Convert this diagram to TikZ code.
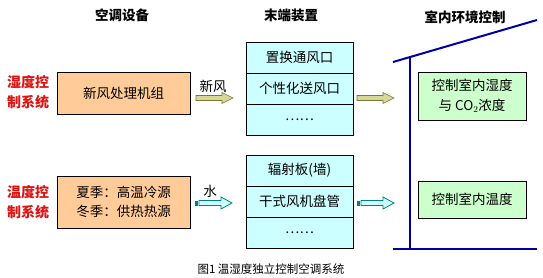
\documentclass[tikz,border=0pt]{standalone}
\usepackage{fontspec}
\setmainfont{Noto Sans CJK SC}
\usetikzlibrary{positioning}

\definecolor{peach}{RGB}{255,204,153}
\definecolor{lightcyan}{RGB}{204,255,255}
\definecolor{lightgreen}{RGB}{204,255,204}
\definecolor{redlabel}{RGB}{220,20,20}
\definecolor{wallblue}{RGB}{0,0,160}
\definecolor{airfill}{RGB}{214,216,150}
\definecolor{airdark}{RGB}{120,120,60}
\definecolor{waterdark}{RGB}{0,128,128}

\begin{document}
\begin{tikzpicture}[x=1pt, y=-1pt, font=\fontsize{13.5}{19.5}\selectfont,
  judul/.style={font=\bfseries\fontsize{13.5}{16}\selectfont},
  labelmerah/.style={text=redlabel, align=center, font=\bfseries\fontsize{14}{19.5}\selectfont},
  kotaksumber/.style={draw, fill=peach, minimum width=133pt, align=center, inner sep=0pt, outer sep=0pt},
  kotakujung/.style={draw, fill=lightcyan, minimum width=107pt, minimum height=31pt, inner sep=0pt, outer sep=0pt},
  kotakruang/.style={draw, fill=lightgreen, minimum width=108pt, align=center, inner sep=0pt, outer sep=0pt},
  panahudara/.style={draw=airdark, fill=airfill, line width=0.6pt},
  panahair/.style={draw=waterdark, fill=lightcyan, line width=0.8pt},
  dinding/.style={draw=wallblue, line width=2pt}]

\useasboundingbox (0,0) rectangle (543,278);

% judul kolom
\node[judul] (jperalatan) at (122,15) {空调设备};
\node[judul] (jujung) at (291,15) {末端装置};
\node[judul] (jruang) at (465,17) {室内环境控制};

% label sistem (merah)
\node[labelmerah] (sislembab) at (28,92) {湿度控\\制系统};
\node[labelmerah] (sissuhu) at (28,202) {温度控\\制系统};

% kotak sumber
\node[kotaksumber, minimum height=42pt] (udarasegar) at (123.5,93) {新风处理机组};
\node[kotaksumber, minimum height=52pt] (sumberpanas) at (123.5,202) {夏季：高温冷源\\冬季：供热热源};

% kolom perangkat ujung atas
\node[kotakujung] (ujung1) at (299.5,57.5) {置换通风口};
\node[kotakujung, below=0pt of ujung1] (ujung2) {个性化送风口};
\node[kotakujung, below=0pt of ujung2] (ujung3) {……};

% kolom perangkat ujung bawah
\node[kotakujung] (ujung4) at (299.5,170.5) {辐射板(墙)};
\node[kotakujung, below=0pt of ujung4] (ujung5) {干式风机盘管};
\node[kotakujung, below=0pt of ujung5] (ujung6) {……};

% label panah
\node (lbudara) at (213,86) {新风};
\node (lbair) at (210,191) {水};

% panah udara segar
\foreach \x in {196,357} {
  \draw[panahudara] (\x,95.5) -- ++(26,0) -- ++(0,-3) -- ++(11,5.5) -- ++(-11,5.5) -- ++(0,-3) -- ++(-26,0) -- cycle;
}

% panah air
\foreach \x in {195,357} {
  \fill[waterdark] (\x,200.5) rectangle ++(3,5);
  \draw[panahair] (\x+4,200.5) -- ++(22,0) -- ++(0,-3.5) -- ++(11,6) -- ++(-11,6) -- ++(0,-3.5) -- ++(-22,0) -- cycle;
}

% ruangan
\coordinate (atapkiri) at (393,62);
\coordinate (atapkanan) at (537,20);
\coordinate (dindingatas) at (410,57);
\coordinate (lantaikiri) at (393,249);
\coordinate (lantaikanan) at (537,249);
\draw[dinding] (atapkiri) -- (atapkanan);
\draw[dinding] (dindingatas) -- (dindingatas |- lantaikiri);
\draw[dinding] (lantaikiri) -- (lantaikanan);

% kotak kontrol ruangan
\node[kotakruang, minimum height=48pt] (kontrollembab) at (472,96) {控制室内湿度\\与 CO$_2$浓度};
\node[kotakruang, minimum height=37pt] (kontrolsuhu) at (472,199.5) {控制室内温度};

% keterangan gambar
\node[font=\fontsize{11.5}{14}\selectfont] (keterangan) at (271,269) {图1 温湿度独立控制空调系统};

\end{tikzpicture}
\end{document}
